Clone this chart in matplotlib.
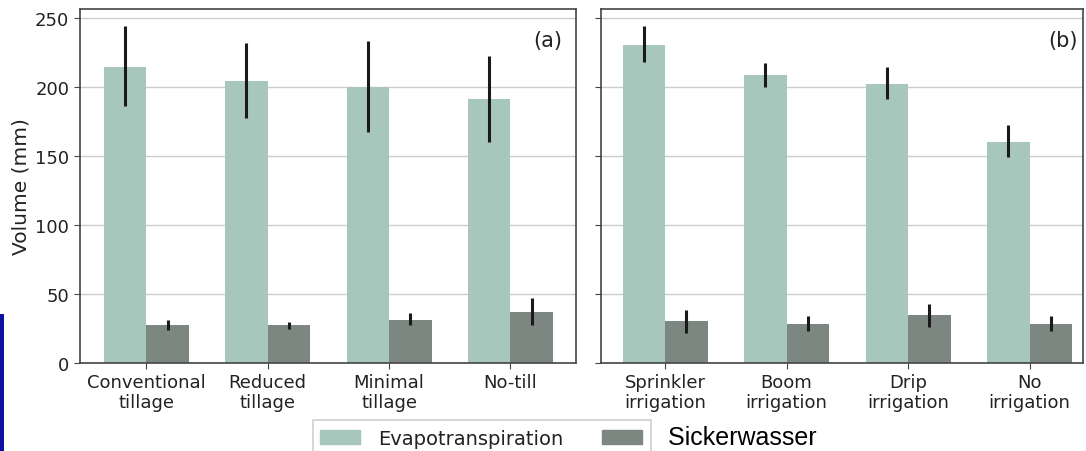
import matplotlib.pyplot as plt
from matplotlib.patches import Rectangle, Patch
import numpy as np

# panel (a): tillage
till_labels = ["Conventional\ntillage", "Reduced\ntillage", "Minimal\ntillage", "No-till"]
till_et = [214.5, 204.3, 200.0, 191.0]
till_et_lo = [185.8, 177.3, 167.0, 160.2]
till_et_hi = [243.6, 231.6, 233.3, 222.0]
till_sw = [27.3, 27.3, 31.1, 36.7]
till_sw_lo = [23.9, 24.8, 27.7, 27.5]
till_sw_hi = [31.1, 29.4, 36.0, 47.0]

# panel (b): irrigation
irr_labels = ["Sprinkler\nirrigation", "Boom\nirrigation", "Drip\nirrigation", "No\nirrigation"]
irr_et = [230.4, 208.7, 202.2, 160.0]
irr_et_lo = [217.8, 199.5, 191.3, 148.9]
irr_et_hi = [243.6, 217.3, 214.5, 172.0]
irr_sw = [30.2, 28.2, 35.0, 28.2]
irr_sw_lo = [22.0, 22.9, 26.3, 22.9]
irr_sw_hi = [38.6, 34.0, 42.5, 34.0]

c_et = "#a7c6bc"
c_sw = "#7c8782"
W, H = 1086, 452

fig = plt.figure(figsize=(W / 100, H / 100), dpi=100)


def panel(ax, labels, et, et_lo, et_hi, sw, sw_lo, sw_hi, tag, xlim, tagx):
    x = np.arange(len(labels))
    w = 0.35
    et = np.array(et)
    sw = np.array(sw)
    ax.bar(x - w / 2, et, w, color=c_et, zorder=2,
           yerr=[et - np.array(et_lo), np.array(et_hi) - et],
           error_kw=dict(ecolor="#1a1a1a", elinewidth=2.2, capsize=0, zorder=3))
    ax.bar(x + w / 2, sw, w, color=c_sw, zorder=2,
           yerr=[sw - np.array(sw_lo), np.array(sw_hi) - sw],
           error_kw=dict(ecolor="#1a1a1a", elinewidth=2.2, capsize=0, zorder=3))
    ax.set_xticks(x)
    ax.set_xticklabels(labels, fontsize=13, color="#222222", linespacing=1.12)
    ax.set_xlim(*xlim)
    ax.set_ylim(0, 256.2)
    ax.set_yticks([0, 50, 100, 150, 200, 250])
    ax.grid(axis="y", color="#cccccc", linewidth=1.0, zorder=0)
    ax.set_axisbelow(True)
    for s in ax.spines.values():
        s.set_color("#444444")
        s.set_linewidth(1.2)
    ax.tick_params(colors="#444444", labelcolor="#222222", labelsize=13, length=4)
    ax.text(tagx, 0.912, tag, transform=ax.transAxes, ha="right", va="center",
            fontsize=15, color="#222222")


ax1 = fig.add_axes([79.6 / W, (H - 364) / H, (576 - 79.6) / W, 354 / H])
ax2 = fig.add_axes([600.7 / W, (H - 364) / H, (1083 - 600.7) / W, 354 / H])

panel(ax1, till_labels, till_et, till_et_lo, till_et_hi,
      till_sw, till_sw_lo, till_sw_hi, "(a)", (-0.55, 3.54), 0.972)
panel(ax2, irr_labels, irr_et, irr_et_lo, irr_et_hi,
      irr_sw, irr_sw_lo, irr_sw_hi, "(b)", (-0.53, 3.44), 0.99)
ax2.tick_params(labelleft=False)
ax1.set_ylabel("Volume (mm)", fontsize=14.5, color="#222222", labelpad=3)

# legend
handles = [Patch(color=c_et), Patch(color=c_sw)]
leg = fig.legend(handles, ["Evapotranspiration", " Sickerwasser"], ncol=2,
                 loc="center left", bbox_to_anchor=(320 / W, (H - 438) / H),
                 frameon=False, fontsize=14, handlelength=2.05,
                 handleheight=0.7, handletextpad=0.95, columnspacing=2.0,
                 borderpad=0.0, borderaxespad=0.0)
leg.get_texts()[0].set_color("#222222")
sw_txt = leg.get_texts()[1]
sw_txt.set_fontfamily("Liberation Sans")
sw_txt.set_fontsize(18)
sw_txt.set_color("black")
fig.patches.append(Rectangle((313 / W, -0.02), (651 - 313) / W, (H - 421) / H + 0.02,
                             transform=fig.transFigure, fill=False,
                             edgecolor="#d0d0d0", linewidth=1.2))

# blue strip at the left edge
fig.patches.append(Rectangle((0, 0), 4 / W, (H - 315) / H, transform=fig.transFigure,
                             facecolor="#1010a0", edgecolor="none"))

fig.savefig("out.png", dpi=100)
